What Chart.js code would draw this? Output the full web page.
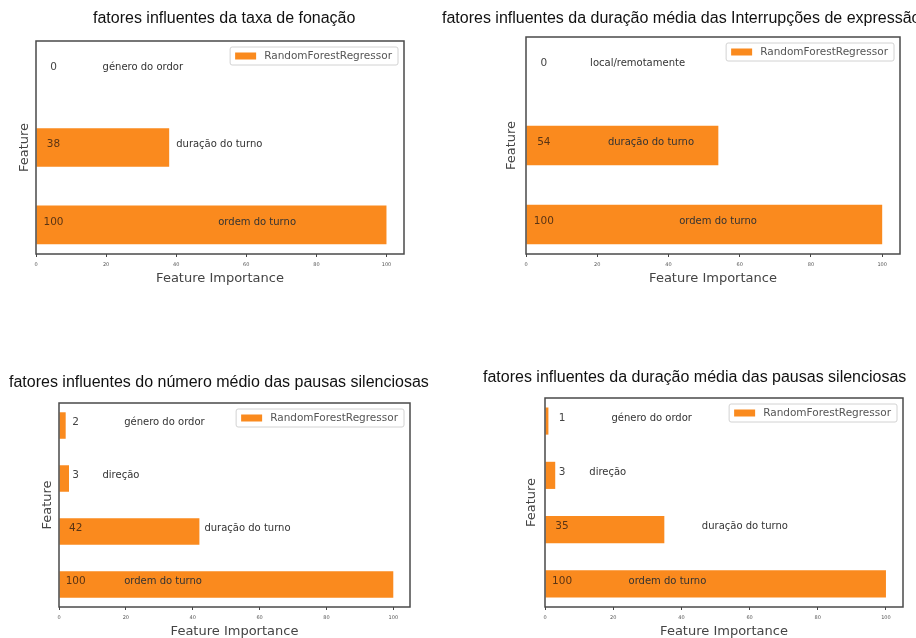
<!DOCTYPE html>
<html>
<head>
<meta charset="utf-8">
<script src="https://cdn.jsdelivr.net/npm/chart.js@4.4.0/dist/chart.umd.min.js"></script>
<style>
  html, body { margin: 0; padding: 0; background: #fff; overflow: hidden; width: 916px; height: 638px; }
  canvas { position: absolute; }
</style>
</head>
<body>
<canvas id="c1" width="458" height="300" style="left:0;top:0"></canvas>
<canvas id="c2" width="520" height="300" style="left:430px;top:0"></canvas>
<canvas id="c3" width="458" height="310" style="left:0;top:340px"></canvas>
<canvas id="c4" width="458" height="310" style="left:458px;top:340px"></canvas>
<script>
// feature importances per target variable
const seriesLabel = 'RandomForestRegressor';
const xTicks = [0, 20, 40, 60, 80, 100];

const titles = [
    'fatores influentes da taxa de fonação',
    'fatores influentes da duração média das Interrupções de expressão',
    'fatores influentes do número médio das pausas silenciosas',
    'fatores influentes da duração média das pausas silenciosas'
];

const features1 = ['género do ordor', 'duração do turno', 'ordem do turno'];
const importance1 = [0, 38, 100];

const features2 = ['local/remotamente', 'duração do turno', 'ordem do turno'];
const importance2 = [0, 54, 100];

const features3 = ['género do ordor', 'direção', 'duração do turno', 'ordem do turno'];
const importance3 = [2, 3, 42, 100];

const features4 = ['género do ordor', 'direção', 'duração do turno', 'ordem do turno'];
const importance4 = [1, 3, 35, 100];

const barColor = '#fa8a1e';
Chart.defaults.font.family = '"DejaVu Sans", sans-serif';

// draws frame, in-bar annotations, boxed legend and panel title
function decor(cfg) {
    return {
        id: 'decor',
        afterDatasetsDraw(chart) {
            const { ctx, chartArea: a, scales: { x, y } } = chart;
            const ds = chart.data.datasets[0];
            ctx.save();

            ctx.strokeStyle = '#4a4a4a';
            ctx.lineWidth = 1.5;
            ctx.strokeRect(a.left, a.top, a.right - a.left, a.bottom - a.top);

            ctx.textBaseline = 'middle';
            ds.data.forEach((pt, i) => {
                const py = y.getPixelForValue(i) - 3;
                ctx.font = '10.5px "DejaVu Sans"';
                ctx.fillStyle = pt.x > 5 ? '#5a3414' : '#444';
                ctx.textAlign = 'center';
                ctx.fillText(String(pt.x), x.getPixelForValue(5), py);
                ctx.font = '10px "DejaVu Sans"';
                ctx.textAlign = 'left';
                ctx.fillStyle = '#333';
                ctx.fillText(cfg.names[i], x.getPixelForValue(cfg.nameAt[i]), py);
            });

            // legend box, top right of the axes
            ctx.font = '10.5px "DejaVu Sans"';
            const tw = ctx.measureText(ds.label).width;
            const lw = tw + 40, lh = 18;
            const lx = a.right - 6 - lw, ly = a.top + 6;
            ctx.fillStyle = 'rgba(255,255,255,0.85)';
            ctx.strokeStyle = '#d2d2d2';
            ctx.lineWidth = 1;
            ctx.beginPath();
            ctx.roundRect(lx, ly, lw, lh, 2);
            ctx.fill();
            ctx.stroke();
            ctx.fillStyle = ds.backgroundColor;
            ctx.fillRect(lx + 5, ly + lh / 2 - 3.5, 21, 7);
            ctx.fillStyle = '#555';
            ctx.textAlign = 'left';
            ctx.fillText(ds.label, lx + 34, ly + lh / 2 + 0.5);

            ctx.font = '16px "Liberation Sans"';
            ctx.fillStyle = '#111';
            ctx.fillText(cfg.title, cfg.titleX, cfg.titleY);
            ctx.restore();
        }
    };
}

function makePanel(id, names, values, cfg) {
    const n = values.length;
    const margin = 0.05 * (n - 1 + 0.5);
    return new Chart(document.getElementById(id), {
        type: 'bar',
        data: {
            datasets: [{
                label: seriesLabel,
                data: values.map((v, i) => ({ x: v, y: i })),
                backgroundColor: barColor,
                borderWidth: 0,
                barPercentage: 0.5,
                categoryPercentage: 1
            }]
        },
        options: {
            indexAxis: 'y',
            responsive: false,
            animation: false,
            layout: { padding: cfg.padding },
            plugins: {
                legend: { display: false },
                tooltip: { enabled: false }
            },
            scales: {
                x: {
                    type: 'linear',
                    bounds: 'data',
                    min: 0,
                    max: 105,
                    afterBuildTicks: s => { s.ticks = xTicks.map(v => ({ value: v })); },
                    afterFit: s => { s.height = 36; },
                    ticks: { font: { size: 5 }, color: '#555', padding: 5, maxRotation: 0, autoSkip: false },
                    grid: { drawOnChartArea: false, drawTicks: true, tickLength: 3, color: '#444' },
                    border: { display: false },
                    title: {
                        display: true, text: 'Feature Importance', color: '#444',
                        font: { size: 13 }, padding: { top: 0, bottom: 4 }
                    }
                },
                y: {
                    type: 'linear',
                    bounds: 'data',
                    offset: false,
                    reverse: true,
                    min: -0.25 - margin,
                    max: n - 1 + 0.25 + margin,
                    afterBuildTicks: s => { s.ticks = names.map((f, i) => ({ value: i })); },
                    afterFit: s => { s.width = cfg.yWidth; },
                    ticks: { display: false },
                    grid: { display: false, offset: false },
                    border: { display: false },
                    title: {
                        display: true, text: 'Feature', color: '#444',
                        font: { size: 13 }, padding: { top: 3, bottom: 0 }
                    }
                }
            }
        },
        plugins: [decor({ names, title: cfg.title, titleX: cfg.titleX, titleY: cfg.titleY, nameAt: cfg.nameAt })]
    });
}

makePanel('c1', features1, importance1, {
    title: titles[0], titleX: 93, titleY: 19,
    padding: { left: 14, top: 41, right: 54, bottom: 10 }, yWidth: 22,
    nameAt: [19, 40, 52]
});
makePanel('c2', features2, importance2, {
    title: titles[1], titleX: 12, titleY: 19,
    padding: { left: 71, top: 37, right: 50, bottom: 10 }, yWidth: 25,
    nameAt: [18, 23, 43]
});
makePanel('c3', features3, importance3, {
    title: titles[2], titleX: 9, titleY: 43,
    padding: { left: 37, top: 63, right: 48, bottom: 7 }, yWidth: 22,
    nameAt: [19.5, 13, 43.5, 19.5]
});
makePanel('c4', features4, importance4, {
    title: titles[3], titleX: 25, titleY: 38,
    padding: { left: 63, top: 58, right: 13, bottom: 7 }, yWidth: 24,
    nameAt: [19.5, 13, 46, 24.5]
});
</script>
</body>
</html>
